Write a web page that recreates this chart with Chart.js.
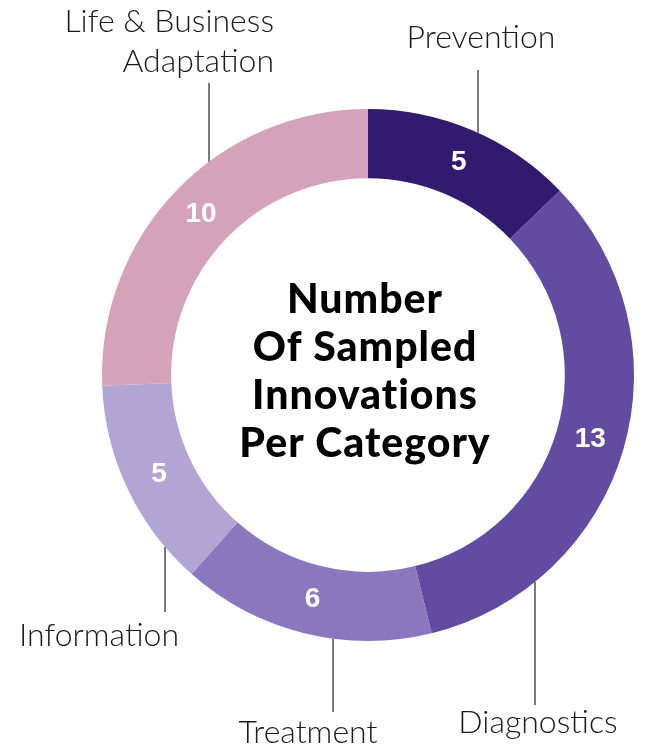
<!DOCTYPE html>
<html>
<head>
<meta charset="utf-8">
<script src="https://cdn.jsdelivr.net/npm/chart.js@4/dist/chart.umd.min.js"></script>
<style>
  html, body { margin: 0; padding: 0; background: #fff; }
  #wrap { width: 648px; height: 749px; position: relative; }
</style>
</head>
<body>
<div id="wrap"><canvas id="innovationsChart"></canvas></div>
<script>
const categories = ["Prevention", "Diagnostics", "Treatment", "Information", "Life & Business Adaptation"];
const innovationCounts = [5, 13, 6, 5, 10];
const sliceColors = ["#321a6f", "#624ba0", "#8a77be", "#b2a4d3", "#d5a3b9"];
const centerTitle = ["Number", "Of Sampled", "Innovations", "Per Category"];

// where each outside label sits, and where its leader line runs
const labelSpots = [
  { lines: ["Prevention"], x: 481, y: 38, align: "center", lineX: 478, lineTop: 70 },
  { lines: ["Diagnostics"], x: 538, y: 723, align: "center", lineX: 535, lineTop: 705 },
  { lines: ["Treatment"], x: 308, y: 733, align: "center", lineX: 333, lineTop: 712 },
  { lines: ["Information"], x: 99, y: 636, align: "center", lineX: 165, lineTop: 612 },
  { lines: ["Life & Business", "Adaptation"], x: 274, y: 22, align: "right", lineX: 209, lineTop: 83 }
];

const labelsPlugin = {
  id: "ringLabels",
  afterDatasetsDraw(chart) {
    const ctx = chart.ctx;
    const arcs = chart.getDatasetMeta(0).data;
    if (!arcs.length) return;
    const cx = arcs[0].x;
    const cy = arcs[0].y;
    const outer = arcs[0].outerRadius;
    const inner = arcs[0].innerRadius;

    ctx.save();
    // values inside the ring
    ctx.fillStyle = "#ffffff";
    ctx.font = "bold 28px 'Liberation Sans', Arial, sans-serif";
    ctx.textAlign = "center";
    ctx.textBaseline = "middle";
    arcs.forEach((arc, i) => {
      const mid = (arc.startAngle + arc.endAngle) / 2;
      const r = (outer + inner) / 2;
      ctx.fillText(String(innovationCounts[i]), cx + r * Math.cos(mid), cy + r * Math.sin(mid));
    });

    // outside labels + leader lines
    ctx.strokeStyle = "#222";
    ctx.lineWidth = 1.2;
    ctx.fillStyle = "#1a1a1a";
    ctx.font = "300 32px Lato, 'Open Sans', sans-serif";
    labelSpots.forEach((spot) => {
      const dx = spot.lineX - cx;
      const dy = Math.sqrt(Math.max(0, outer * outer - dx * dx));
      const edgeY = spot.lineTop < cy ? cy - dy : cy + dy;
      ctx.beginPath();
      ctx.moveTo(spot.lineX, spot.lineTop);
      ctx.lineTo(spot.lineX, edgeY);
      ctx.stroke();

      ctx.textAlign = spot.align;
      spot.lines.forEach((line, k) => {
        ctx.fillText(line, spot.x, spot.y + k * 40);
      });
    });

    // center title
    ctx.fillStyle = "#000";
    ctx.font = "900 41px Lato, 'Open Sans', sans-serif";
    ctx.letterSpacing = "1px";
    ctx.textAlign = "center";
    centerTitle.forEach((line, k) => {
      ctx.fillText(line, cx - 3, 300 + k * 48);
    });
    ctx.restore();
  }
};

new Chart(document.getElementById("innovationsChart"), {
  type: "doughnut",
  data: {
    labels: categories,
    datasets: [{
      data: innovationCounts,
      backgroundColor: sliceColors,
      borderWidth: 0
    }]
  },
  options: {
    responsive: true,
    maintainAspectRatio: false,
    animation: false,
    cutout: "74%",
    layout: { padding: { left: 102, right: 14, top: 109, bottom: 108 } },
    plugins: {
      legend: { display: false },
      tooltip: { enabled: false }
    }
  },
  plugins: [labelsPlugin]
});
</script>
</body>
</html>
